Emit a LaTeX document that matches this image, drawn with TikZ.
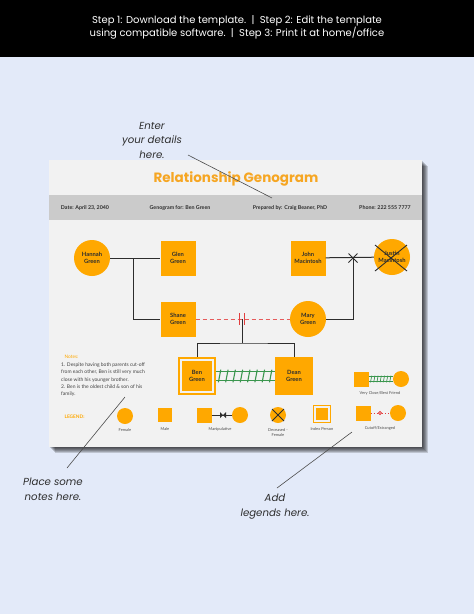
\documentclass[tikz,border=0pt]{standalone}
\usepackage{fontspec}
\setmainfont{Lato}
\newfontfamily\popfont{Poppins}
\usetikzlibrary{positioning,decorations.markings}

\definecolor{pagebg}{RGB}{227,234,249}
\definecolor{cardbg}{RGB}{242,242,242}
\definecolor{bandbg}{RGB}{203,203,203}
\definecolor{gold}{RGB}{255,168,0}
\definecolor{titlegold}{RGB}{246,166,35}
\definecolor{railgreen}{RGB}{58,150,78}
\definecolor{cutred}{RGB}{226,62,62}
\definecolor{ink}{RGB}{45,45,45}

\tikzset{
  female/.style={circle,fill=gold,minimum size=36pt,inner sep=0pt,align=center,
    text=ink,font=\bfseries\fontsize{5.8}{7}\selectfont},
  male/.style={rectangle,fill=gold,minimum size=35pt,inner sep=0pt,align=center,
    text=ink,font=\bfseries\fontsize{5.8}{7}\selectfont},
  kin/.style={draw=ink,line width=1pt},
  rail/.style={draw=railgreen,line width=1.1pt,double=cardbg,double distance=#1,
    postaction={decorate,decoration={markings,
      mark=between positions 0.06 and 0.96 step 7.3pt with
      {\draw[railgreen,line width=1.1pt] (-1.2pt,-6.3pt) -- (1.2pt,6.3pt);}}}},
  rail/.default=7.5pt,
  hint/.style={align=center,text=ink,font=\popfont\itshape\fontsize{10.2}{14.5}\selectfont},
  pointer/.style={draw=ink!85,line width=0.6pt},
  info/.style={text=ink,font=\bfseries\fontsize{5.3}{6}\selectfont},
  key/.style={text=ink!85,font=\fontsize{4}{5.4}\selectfont,align=center}
}

\begin{document}
\begin{tikzpicture}[x=1pt,y=-1pt]
  \useasboundingbox (0,0) rectangle (474,614);
  % page
  \fill[pagebg] (0,57) rectangle (474,614);
  \fill[black] (0,0) rectangle (474,57);
  \node[text=white,align=center,font=\popfont\fontsize{10}{13.5}\selectfont] (steps) at (237,27.5)
    {Step 1: Download the template.\ \ |\ \ Step 2: Edit the template\\
     using compatible software.\ \ |\ \ Step 3: Print it at home/office};

  % card and shadow
  \foreach \d in {1,...,6}
    \fill[black,opacity=0.16] (49+\d,160+\d) rectangle (422+\d,447+\d);
  \fill[cardbg] (49,160) rectangle (422,447);
  \node[text=titlegold,font=\popfont\bfseries\fontsize{13.5}{15}\selectfont] (title) at (236,179) {Relationship Genogram};
  \fill[bandbg] (49,195) rectangle (422,220);
  \node[info] (date) at (85,208) {Date: April 23, 2040};
  \node[info] (for) at (180,208) {Genogram for: Ben Green};
  \node[info] (prep) at (290,208) {Prepared by: Craig Beaner, PhD};
  \node[info] (phone) at (385,208) {Phone: 222 555 7777};

  % family
  \node[female] (hannah) at (92,258) {Hannah\\Green};
  \node[male] (glen) at (178,258) {Glen\\Green};
  \node[male] (shane) at (178,319) {Shane\\Green};
  \node[male] (john) at (308,258) {John\\Macintosh};
  \node[female] (justin) at (392,257) {Justin\\Macintosh};
  \node[female] (mary) at (308,319) {Mary\\Green};
  \node[draw=gold,line width=1.6pt,fill=cardbg,minimum size=36.5pt,inner sep=0pt] (benframe) at (197,376) {};
  \node[male,minimum size=30pt] (ben) at (197,376) {Ben\\Green};
  \node[male,minimum size=38pt] (dean) at (294,376) {Dean\\Green};

  \coordinate (hg) at (133,258);
  \coordinate (jj) at (353,258);
  \coordinate (sm) at (242,319);
  \coordinate (kids) at (242,343);

  \draw[kin] (hannah) -- (glen);
  \draw[kin] (hg) |- (shane);
  \draw[kin] (john) -- (justin);
  \draw[kin] (jj) |- (mary);
  \draw[kin] (jj) +(-4.5,-4.5) -- +(4.5,4.5) +(-4.5,4.5) -- +(4.5,-4.5);
  \draw[ink,line width=0.9pt] (justin) +(-17,-12) -- +(15,14) +(-17,14) -- +(15,-12);
  \draw[cutred!85,line width=1pt,dash pattern=on 4pt off 3pt] (shane) -- (mary);
  \draw[cutred,line width=1pt] (sm) +(-2.2,-6) -- +(-2.2,6) +(2.2,-6) -- +(2.2,6);
  \draw[kin] (sm) -- (kids);
  \draw[kin] (benframe.north) |- (kids) -| (dean.north);
  \draw[rail] (benframe) -- (dean);

  % notes
  \node[text=gold,font=\fontsize{4.8}{5}\selectfont,anchor=west] (notes) at (61,357) {Notes:};
  \node[text=ink!90,font=\fontsize{5}{7.1}\selectfont,align=left,anchor=north west,inner sep=0pt] (notetext) at (61,363)
    {1. Despite having both parents cut-off\\
     from each other, Ben is still very much\\
     close with his younger brother.\\
     2. Ben is the oldest child \& son of his\\
     family.};
  \node[text=gold,font=\bfseries\fontsize{4.8}{5}\selectfont,anchor=west] (legend) at (61,417) {LEGEND:};

  % legend
  \node[female,minimum size=16pt] (kfem) at (125,416) {};
  \node[key] at (125,430) {Female};
  \node[male,minimum size=14.5pt] (kmal) at (165,415) {};
  \node[key] at (165,429) {Male};
  \node[male,minimum size=15pt] (kman1) at (204,415) {};
  \node[female,minimum size=16pt] (kman2) at (240,415) {};
  \draw[kin,line width=0.8pt] (kman1) -- (kman2);
  \fill[ink] (223,415) -- (220,412) -- (220,418) -- cycle (223,415) -- (226,412) -- (226,418) -- cycle;
  \node[key] at (220,429) {Manipulative};
  \node[female,minimum size=16pt] (kdec) at (278,415) {};
  \draw[ink,line width=0.9pt] (kdec) +(-6,-6) -- +(6,6) +(-6,6) -- +(6,-6);
  \node[key] at (278,432.5) {Deceased -\\Female};
  \node[draw=gold,line width=1pt,fill=cardbg,minimum size=17pt,inner sep=0pt] (kidx) at (322,414) {};
  \node[male,minimum size=12pt] at (322,414) {};
  \node[key] at (322,429) {Index Person};
  \node[male,minimum size=15pt] (kcut1) at (363,413) {};
  \node[female,minimum size=16pt] (kcut2) at (398,413) {};
  \draw[cutred,line width=0.9pt,dotted] (kcut1) -- (kcut2);
  \node[circle,draw=cutred,fill=cutred!60,inner sep=0pt,minimum size=3.5pt] at (380,413) {};
  \node[key] at (380,428) {Cutoff/Estranged};
  \node[male,minimum size=15pt] (kbf1) at (361,379) {};
  \node[female,minimum size=16pt] (kbf2) at (401,379) {};
  \draw[draw=railgreen,line width=0.8pt,double=cardbg,double distance=4.5pt,
    postaction={decorate,decoration={markings,mark=between positions 0.1 and 0.9 step 3.2pt with
      {\draw[railgreen,line width=0.7pt] (-0.6pt,-3.4pt) -- (0.6pt,3.4pt);}}}] (kbf1) -- (kbf2);
  \node[key] at (380,393) {Very Close/Best Friend};

  % hints
  \node[hint] (enter) at (152,140) {Enter\\your details\\here.};
  \node[hint] (place) at (53,489.5) {Place some\\notes here.};
  \node[hint] (add) at (275,506.5) {Add\\legends here.};
  \coordinate (p1) at (188,155);
  \coordinate (p2) at (272,198);
  \coordinate (p3) at (67,468);
  \coordinate (p4) at (125,397);
  \coordinate (p5) at (277,488);
  \coordinate (p6) at (352,432);
  \draw[pointer] (p1) -- (p2);
  \draw[pointer] (p3) -- (p4);
  \draw[pointer] (p5) -- (p6);
\end{tikzpicture}
\end{document}
